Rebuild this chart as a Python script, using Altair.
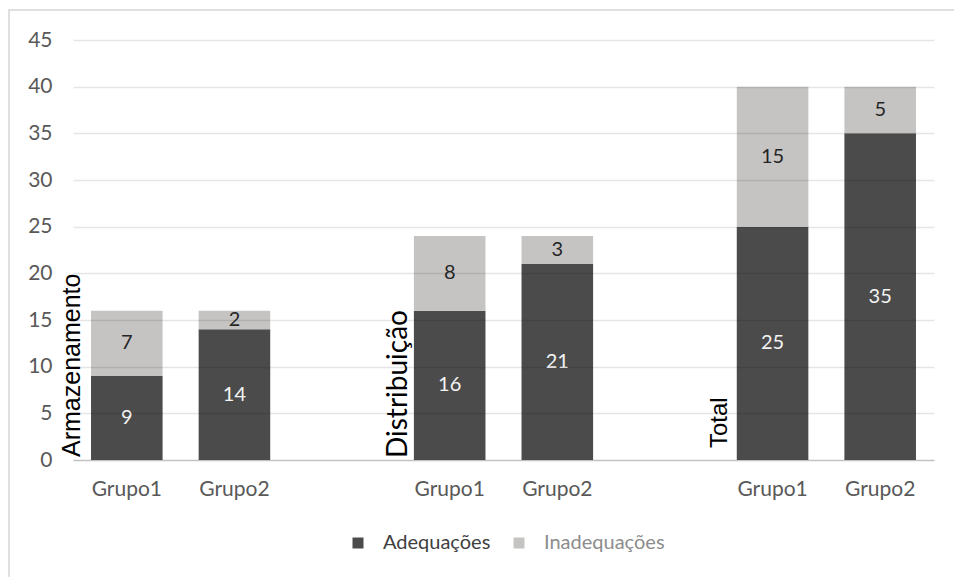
import altair as alt
import pandas as pd

categorias = ["Armazenamento", "Distribuição", "Total"]
grupos = ["Grupo1", "Grupo2"]
series = ["Adequações", "Inadequações"]
adequacoes = [9, 14, 16, 21, 25, 35]
inadequacoes = [7, 2, 8, 3, 15, 5]
y_ticks = [0, 5, 10, 15, 20, 25, 30, 35, 40, 45]

DARK = "#4b4b4b"
LIGHT = "#c5c4c3"
TXT = "#595959"

slots = []
for i, c in enumerate(categorias):
    for g in grupos:
        slots.append(f"{c}|{g}")
    if i < len(categorias) - 1:
        slots.append(f"{c}|gap")

rows = []
k = 0
for c in categorias:
    for g in grupos:
        rows.append(dict(slot=f"{c}|{g}", serie=series[0], valor=adequacoes[k], ord=0))
        rows.append(dict(slot=f"{c}|{g}", serie=series[1], valor=inadequacoes[k], ord=1))
        k += 1
df = pd.DataFrame(rows)

cat_df = pd.DataFrame({
    "slot": [f"{c}|Grupo1" for c in categorias],
    "cat": categorias,
    "zero": [0] * len(categorias),
})

x_scale = alt.Scale(domain=slots, paddingInner=0.335, paddingOuter=0.1675)
x_axis = alt.Axis(
    title=None,
    labelExpr="split(datum.value, '|')[1] == 'gap' ? '' : split(datum.value, '|')[1]",
    ticks=False, tickSize=0, domainColor="#d9d9d9", domainWidth=1.5,
    labelColor=TXT, labelFont="Lato", labelFontSize=21, labelPadding=18,
    grid=False, labelAngle=0, labelOverlap=False, labelLimit=300,
)
y_scale = alt.Scale(domain=[0, 45], nice=False)
y_axis = alt.Axis(
    title=None, values=y_ticks, ticks=False, tickSize=0, domain=False,
    labelColor=TXT, labelFont="Lato", labelFontSize=21, labelPadding=21,
    grid=True, gridColor="#000000", gridOpacity=0.1, gridWidth=1.5, zindex=1,
)


def X(**kw):
    return alt.X("slot:N", scale=x_scale, axis=x_axis, **kw)


legend = alt.Legend(
    title=None, orient="none", legendX=275, legendY=493, direction="horizontal",
    symbolType="square", symbolSize=121, symbolStrokeWidth=0,
    labelFont="Lato", labelFontSize=20,
    labelColor={"expr": "datum.label == 'Adequações' ? '#404040' : '#8c8c8c'"},
    labelOffset=15, columnPadding=18, padding=0,
)

bars = alt.Chart(df).mark_bar().encode(
    x=X(),
    y=alt.Y("valor:Q", stack="zero", scale=y_scale, axis=y_axis),
    color=alt.Color("serie:N", scale=alt.Scale(domain=series, range=[DARK, LIGHT]), legend=legend),
    order=alt.Order("ord:Q"),
)

labels = alt.Chart(df).transform_stack(
    stack="valor", groupby=["slot"], as_=["v0", "v1"],
    sort=[alt.SortField("ord", order="ascending")],
).transform_calculate(
    mid="(datum.v0 + datum.v1) / 2"
).mark_text(font="Lato", fontSize=20).encode(
    x=X(),
    y=alt.Y("mid:Q", scale=y_scale, axis=y_axis),
    text="valor:Q",
    color=alt.condition(alt.datum.serie == series[0], alt.value("#f4f4f4"), alt.value("#262626")),
)

cat_offsets = {"Armazenamento": (3, -11, "Liberation Sans", 25),
               "Distribuição": (2, -7, "Lato", 28),
               "Total": (12, -10, "Liberation Sans", 24)}
cat_layers = []
for c in categorias:
    dx, dy, font, fs = cat_offsets[c]
    cat_layers.append(
        alt.Chart(cat_df).transform_filter(alt.datum.cat == c).mark_text(
            angle=270, align="left", baseline="alphabetic", dx=dx, dy=dy,
            font=font, fontSize=fs, color="#000000",
        ).encode(
            x=X(bandPosition=0),
            y=alt.Y("zero:Q", scale=y_scale, axis=y_axis),
            text="cat:N",
        )
    )

border = alt.Chart(alt.Data(values=[{"a": 1}])).mark_rect(
    filled=False, stroke="#d6d6d6", strokeWidth=1.5
).encode(
    x=alt.value(-64), x2=alt.value(900), y=alt.value(-30), y2=alt.value(560)
)

chart = alt.layer(border, bars, labels, *cat_layers).properties(
    width=861, height=420,
    padding={"left": 73, "top": 40, "right": 20, "bottom": 117},
    autosize=alt.AutoSizeParams(type="none"),
    background="#ffffff",
).configure_view(strokeWidth=0)

chart.save("out.html", embed_options={"renderer": "svg", "actions": False})
